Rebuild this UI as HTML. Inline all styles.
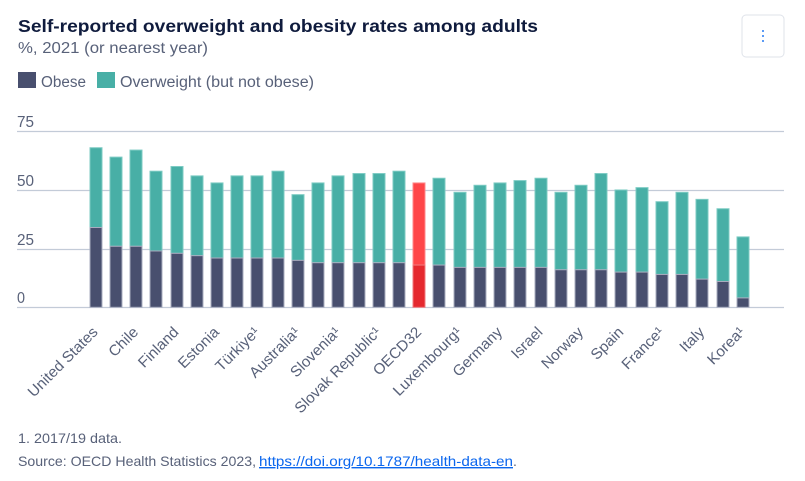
<!DOCTYPE html>
<html lang="en">
<head>
<meta charset="utf-8">
<title>Self-reported overweight and obesity rates among adults</title>
<style>
html,body{margin:0;padding:0;background:#fff;width:805px;height:481px;overflow:hidden}
svg{display:block}
text{font-family:"Liberation Sans","DejaVu Sans",sans-serif}
</style>
</head>
<body>
<svg id="chart" width="805" height="481" viewBox="0 0 805 481" xmlns="http://www.w3.org/2000/svg">
  <text x="18" y="32" font-size="17.5" font-weight="700" fill="#0f1b3d" textLength="520" lengthAdjust="spacingAndGlyphs">Self-reported overweight and obesity rates among adults</text>
  <text x="18" y="53" font-size="15.5" fill="#586179" textLength="190" lengthAdjust="spacingAndGlyphs">%, 2021 (or nearest year)</text>

  <g>
    <rect x="742" y="15" width="42" height="42" rx="4" fill="#fff" stroke="#dfe3ea" stroke-width="1"/>
    <rect x="762" y="30" width="2" height="2" fill="#5b9bf5"/>
    <rect x="762" y="35" width="2" height="2" fill="#5b9bf5"/>
    <rect x="762" y="40" width="2" height="2" fill="#5b9bf5"/>
  </g>

  <g>
    <rect x="18" y="72" width="18" height="16" fill="#484f6e"/>
    <text x="41" y="87" font-size="15.5" fill="#586179" textLength="45" lengthAdjust="spacingAndGlyphs">Obese</text>
    <rect x="97" y="72" width="18" height="16" fill="#48afa6"/>
    <text x="120" y="87" font-size="15.5" fill="#586179" textLength="194" lengthAdjust="spacingAndGlyphs">Overweight (but not obese)</text>
  </g>

  <g id="grid"></g>
  <g id="bars"></g>
  <g id="xlabels"></g>

  <text x="18" y="443" font-size="14" fill="#586179" textLength="104" lengthAdjust="spacingAndGlyphs">1. 2017/19 data.</text>
  <text x="18" y="466" font-size="14" fill="#586179" textLength="238" lengthAdjust="spacingAndGlyphs">Source: OECD Health Statistics 2023,</text>
  <text x="259" y="466" font-size="14" fill="#0a66ee" text-decoration="underline" textLength="254" lengthAdjust="spacingAndGlyphs">https://doi.org/10.1787/health-data-en</text>
  <text x="513" y="466" font-size="14" fill="#586179">.</text>
</svg>
<script>
const categories = ["United States","Hungary","Chile","Canada","Finland","Iceland","Estonia","Lithuania","Türkiye¹","Latvia","Australia¹","Ireland","Slovenia¹","Greece","Slovak Republic¹","Portugal","OECD32","Czechia","Luxembourg¹","Poland","Germany","Austria","Israel","Denmark","Norway","Belgium","Spain","Sweden","France¹","Netherlands","Italy","Switzerland","Korea¹"];
const obese = [34,26,26,24,23,22,21,21,21,21,20,19,19,19,19,19,18,18,17,17,17,17,17,16,16,16,15,15,14,14,12,11,4];
const overweight = [34,38,41,34,37,34,32,35,35,37,28,34,37,38,38,39,35,37,32,35,36,37,38,33,36,41,35,36,31,35,34,31,26];
const yTicks = [0,25,50,75];
const highlighted = "OECD32";

const NS = "http://www.w3.org/2000/svg";
const yScale = v => 307.3 - v * 176 / 75;
const xScale = i => 95.7 + i * 20.22;

function make(tag, attrs, parent) {
  const el = document.createElementNS(NS, tag);
  for (const k in attrs) el.setAttribute(k, attrs[k]);
  parent.appendChild(el);
  return el;
}

const grid = document.getElementById("grid");
yTicks.forEach(t => {
  const y = Math.round(yScale(t)) + 0.5;
  const line = make("line", {x1: 17, x2: 784, y1: y, y2: y, stroke: "#c3cbd8", "stroke-width": 1.3}, grid);
  
  
  const label = make("text", {x: 17, y: y - 4.5, "font-size": 15.5, fill: "#586179", textLength: t === 0 ? 8 : 17, lengthAdjust: "spacingAndGlyphs"}, grid);
  
  
  label.textContent = t;
});

const bars = document.getElementById("bars");
categories.forEach((c, i) => {
  const isHi = c === highlighted;
  const left = Math.round(xScale(i) - 6);
  const yO = yScale(obese[i]);
  const yT = yScale(obese[i] + overweight[i]);
  const y0 = yScale(0);
  const top = make("rect", {x: left, y: yT, width: 12, height: yO - yT,
    fill: isHi ? "#ff4649" : "#48afa6", stroke: isHi ? "#ff8a8c" : "#7ccbc3", "stroke-width": 1}, bars);
  
  
  const bottom = make("rect", {x: left, y: yO, width: 12, height: y0 - yO,
    fill: isHi ? "#e5282e" : "#484f6e", stroke: isHi ? "#f07a7d" : "#a9adbf", "stroke-width": 1}, bars);
  
  
});

const xl = document.getElementById("xlabels");
categories.forEach((c, i) => {
  if (i % 2 !== 0) return;
  const x = xScale(i) + 3;
  const label = make("text", {transform: "translate(" + x + ",333) rotate(-45) scale(1.02,1)",
    "text-anchor": "end", "font-size": 15, fill: "#586179"}, xl);
  
  
  label.textContent = c;
});
</script>
</body>
</html>
